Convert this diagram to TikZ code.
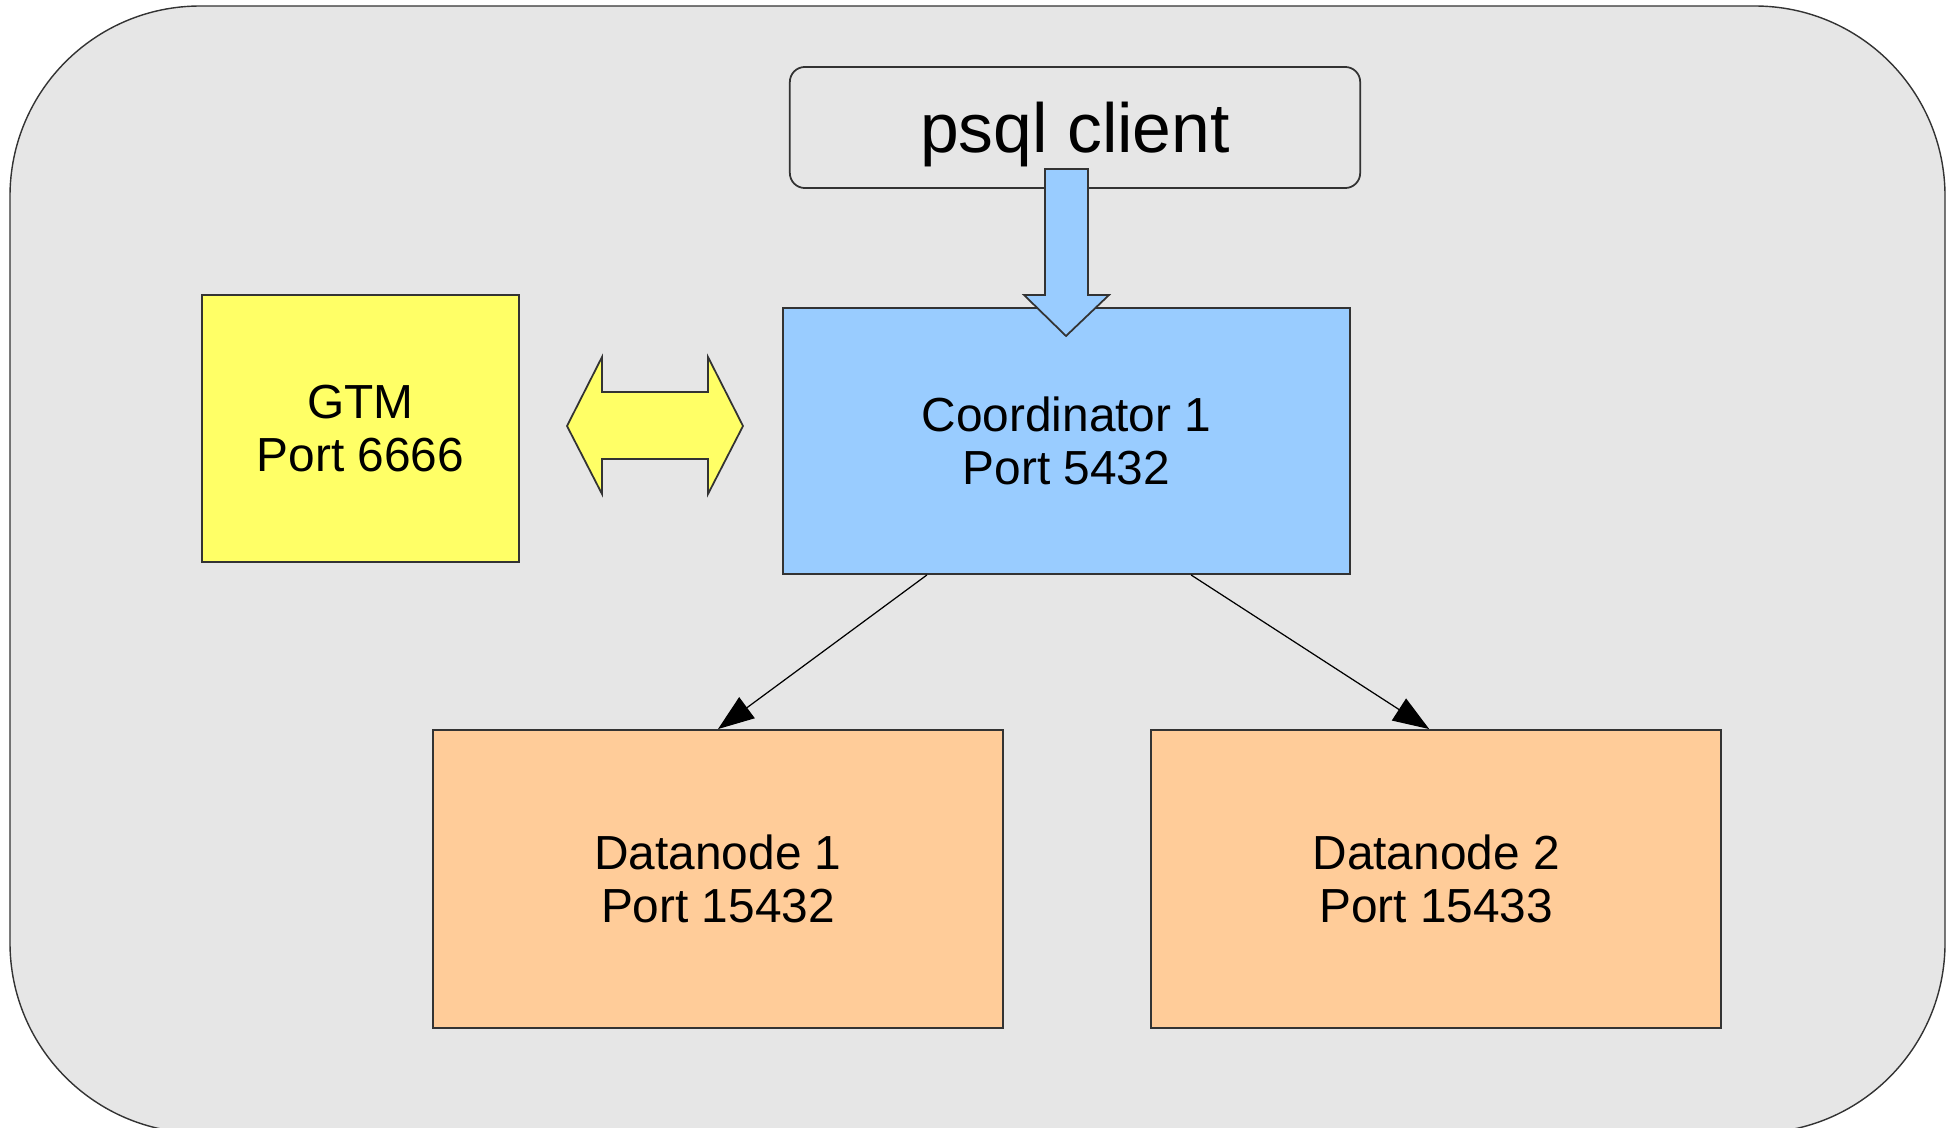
\documentclass[tikz,border=0pt]{standalone}
\usepackage{fontspec}
\setmainfont{Liberation Sans}
\usetikzlibrary{arrows.meta, positioning}
\definecolor{pgxcBack}{HTML}{E6E6E6}
\definecolor{pgxcBlue}{HTML}{99CCFF}
\definecolor{pgxcYellow}{HTML}{FFFF66}
\definecolor{pgxcOrange}{HTML}{FFCC99}
\definecolor{pgxcLine}{HTML}{333333}

\begin{document}
\begin{tikzpicture}[
        x=0.01cm, y=-0.01cm,
        box/.style={rectangle, draw=pgxcLine, line width=0.5pt, inner sep=0pt, align=center, font=\fontsize{13.6}{15.2}\selectfont},
        blockarrow/.style={draw=pgxcLine, line width=0.5pt},
        arrow/.style={-{Triangle[length=0.36cm, width=0.26cm]}, line width=0.35pt, black}
    ]
        \useasboundingbox (0,0) rectangle (1958,1127);
        \clip (0,0) rectangle (1958,1127);

        % Cluster background
        \draw[fill=pgxcBack, draw=pgxcLine, line width=0.4pt, rounded corners=1.9cm] (10,6) rectangle (1945,1133);

        % Client and coordinator
        \node[box, fill=pgxcBack, rounded corners=0.15cm, minimum width=5.7cm, minimum height=1.21cm, text depth=0pt, font=\fontsize{19.8}{22}\selectfont] (psql) at (1075,127.5) {psql client};
        \node[box, fill=pgxcBlue, minimum width=5.67cm, minimum height=2.66cm] (coord) at (1066.5,441) {Coordinator 1\\Port 5432};
        \node[box, fill=pgxcYellow, minimum width=3.17cm, minimum height=2.67cm] (gtm) at (360.5,428.5) {GTM\\Port 6666};

        % Datanodes
        \node[box, fill=pgxcOrange, minimum width=5.7cm, minimum height=2.98cm] (dn1) at (718,879) {Datanode 1\\Port 15432};
        \node[box, fill=pgxcOrange, minimum width=5.7cm, minimum height=2.98cm, right=1.46cm of dn1] (dn2) {Datanode 2\\Port 15433};

        % Block arrows
        \draw[blockarrow, fill=pgxcBlue] (1045,169) -- (1088,169) -- (1088,295) -- (1109,295) -- (1066,336) -- (1024,295) -- (1045,295) -- cycle;
        \draw[blockarrow, fill=pgxcYellow] (567,426) -- (602,357) -- (602,392) -- (708,392) -- (708,357) -- (743,426) -- (708,494) -- (708,459) -- (602,459) -- (602,494) -- cycle;

        \draw[arrow] ([xshift=-1.395cm]coord.south) -- (dn1.north);
        \draw[arrow] ([xshift=1.245cm]coord.south) -- ([xshift=-0.07cm]dn2.north);
    \end{tikzpicture}
\end{document}
